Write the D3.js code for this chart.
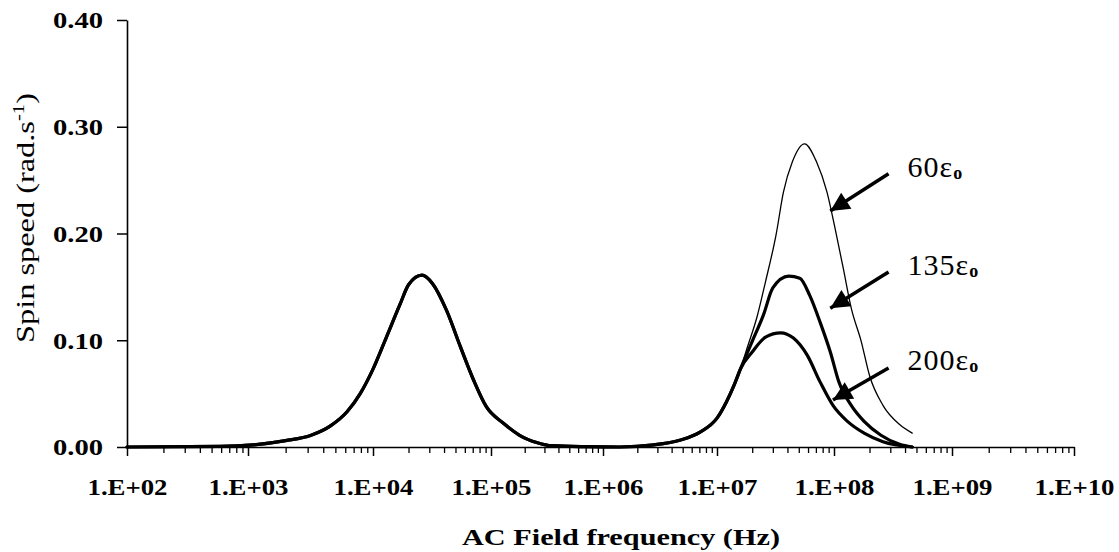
<!DOCTYPE html>
<html>
<head>
<meta charset="utf-8">
<script src="https://cdn.jsdelivr.net/npm/d3@7"></script>
<style>
  html, body { margin: 0; padding: 0; background: #fff; }
  svg { display: block; }
  text { font-family: "Liberation Serif", "Times New Roman", serif; fill: #000; }
</style>
</head>
<body>
<svg id="chart" width="1119" height="552"></svg>
<script>
// ---- data ----
// shared part: low-frequency peak and the common rising flank of the high-frequency peak
const freqShared = [1e2, 5.9e2, 1.1e3, 2.0e3, 3.2e3, 4.6e3, 6.2e3, 7.9e3, 1.0e4, 1.3e4, 1.7e4, 2.0e4,
  2.6e4, 3.2e4, 4.2e4, 5.5e4, 7.1e4, 9.1e4, 1.3e5, 1.8e5, 2.6e5, 3.5e5, 7.2e5, 1.4e6, 2.8e6, 4.8e6,
  7.1e6, 1.0e7, 1.2e7, 1.4e7, 1.6e7];
const spinShared = [0, 0.0005, 0.002, 0.006, 0.011, 0.020, 0.033, 0.050, 0.073, 0.103, 0.134, 0.152,
  0.161, 0.153, 0.128, 0.094, 0.063, 0.038, 0.022, 0.011, 0.004, 0.0012, 0.0003, 0, 0.002, 0.0066,
  0.014, 0.027, 0.042, 0.058, 0.074];

const freq60 = [1.8e7, 2.2e7, 2.6e7, 3.2e7, 3.7e7, 4.4e7, 5.6e7, 7.1e7, 8.7e7, 1.02e8, 1.2e8, 1.4e8,
  1.7e8, 2.0e8, 2.6e8, 3.6e8, 4.6e8];
const spin60 = [0.092, 0.122, 0.155, 0.199, 0.239, 0.267, 0.284, 0.267, 0.239, 0.205, 0.167, 0.130,
  0.099, 0.067, 0.039, 0.021, 0.013];

const freq135 = [2.0e7, 2.5e7, 3.0e7, 4.1e7, 5.1e7, 6.2e7, 7.6e7, 9.3e7, 1.1e8, 1.4e8, 1.8e8, 2.5e8, 3.6e8, 4.6e8];
const spin135 = [0.099, 0.124, 0.149, 0.160, 0.158, 0.142, 0.117, 0.089, 0.061, 0.039, 0.024, 0.011, 0.0025, 0];

const freq200 = [2.0e7, 2.6e7, 3.5e7, 4.5e7, 5.9e7, 7.6e7, 9.8e7, 1.3e8, 1.8e8, 2.6e8, 4.6e8];
const spin200 = [0.089, 0.103, 0.107, 0.102, 0.086, 0.061, 0.039, 0.024, 0.013, 0.005, 0];

const seriesNames = ["60", "135", "200"];
const xTickValues = [1e2, 1e3, 1e4, 1e5, 1e6, 1e7, 1e8, 1e9, 1e10];
const xTickLabels = ["1.E+02", "1.E+03", "1.E+04", "1.E+05", "1.E+06", "1.E+07", "1.E+08", "1.E+09", "1.E+10"];
const yTickValues = [0, 0.1, 0.2, 0.3, 0.4];
const yTickLabels = ["0.00", "0.10", "0.20", "0.30", "0.40"];

// annotation anchors in data space (label, arrow tail, arrow tip)
const annoLabelFreq = 4.2e8;
const annoLabelSpin = [0.253, 0.161, 0.072];
const annoTailFreq = 2.9e8;
const annoTailSpin = [0.256, 0.164, 0.074];
const annoTipFreq = [9.3e7, 9.3e7, 9.8e7];
const annoTipSpin = [0.221, 0.130, 0.044];

// ---- scales ----
const svg = d3.select("#chart");
const x = d3.scaleLog()
  .domain(xTickValues)
  .range([127, 248, 373, 491, 603, 717, 834, 952, 1074]);
const y = d3.scaleLinear().domain([0, 0.4]).range([447, 20]);

// ---- axes ----
const minorTicks = [];
for (let e = 2; e < 10; e++) for (let m = 2; m <= 9; m++) minorTicks.push(m * Math.pow(10, e));

const gMinor = svg.append("g").attr("transform", `translate(0,${y(0)})`)
  .call(d3.axisBottom(x).tickValues(minorTicks).tickSize(6).tickFormat(""));
gMinor.select(".domain").remove();
gMinor.selectAll(".tick line").attr("stroke", "#000").attr("stroke-width", 1.3);

const gx = svg.append("g").attr("transform", `translate(0,${y(0)})`)
  .call(d3.axisBottom(x).tickValues(xTickValues).tickSize(9).tickSizeOuter(0)
    .tickFormat((d, i) => xTickLabels[i]));
gx.select(".domain").attr("stroke", "#000").attr("stroke-width", 1.6);
gx.selectAll(".tick line").attr("stroke", "#000").attr("stroke-width", 1.5);
gx.selectAll(".tick text")
  .attr("y", 48).attr("dy", null)
  .attr("font-size", 24).attr("font-weight", "bold")
  .attr("textLength", 80).attr("lengthAdjust", "spacingAndGlyphs")
  .style("font-family", '"Liberation Serif", serif');

const gy = svg.append("g").attr("transform", `translate(${x(1e2)},0)`)
  .call(d3.axisLeft(y).tickValues(yTickValues).tickSize(10).tickSizeOuter(0)
    .tickFormat((d, i) => yTickLabels[i]));
gy.select(".domain").attr("stroke", "#000").attr("stroke-width", 1.6);
gy.selectAll(".tick line").attr("stroke", "#000").attr("stroke-width", 1.5);
gy.selectAll(".tick text")
  .attr("x", -24).attr("dy", "0.33em")
  .attr("font-size", 24).attr("font-weight", "bold")
  .attr("textLength", 50).attr("lengthAdjust", "spacingAndGlyphs")
  .style("font-family", '"Liberation Serif", serif');

// axis titles
const yTitle = svg.append("text")
  .attr("transform", "translate(34,218) rotate(-90)")
  .attr("text-anchor", "middle")
  .attr("font-size", 25)
  .attr("textLength", 250).attr("lengthAdjust", "spacingAndGlyphs");
yTitle.append("tspan").text("Spin speed (rad.s");
yTitle.append("tspan").attr("font-size", 16).attr("dy", -10).text("-1");
yTitle.append("tspan").attr("dy", 10).text(")");

svg.append("text")
  .attr("x", 621).attr("y", 545)
  .attr("text-anchor", "middle")
  .attr("font-size", 24).attr("font-weight", "bold")
  .attr("textLength", 318).attr("lengthAdjust", "spacingAndGlyphs")
  .text("AC Field frequency (Hz)");

// ---- curves ----
const line = d3.line().x(d => x(d[0])).y(d => y(d[1])).curve(d3.curveMonotoneX);
const shared = freqShared.map((f, i) => [f, spinShared[i]]);
const series = [
  { name: "60", freq: freq60, spin: spin60, width: 1.3 },
  { name: "135", freq: freq135, spin: spin135, width: 3.2 },
  { name: "200", freq: freq200, spin: spin200, width: 3.2 }
];
series.forEach(s => {
  const pts = shared.concat(s.freq.map((f, i) => [f, s.spin[i]]));
  svg.append("path")
    .datum(pts)
    .attr("fill", "none")
    .attr("stroke", "#000")
    .attr("stroke-width", s.width)
    .attr("stroke-linejoin", "round")
    .attr("stroke-linecap", "round")
    .attr("d", line);
});

// ---- annotations ----
svg.append("defs").append("marker")
  .attr("id", "arrowhead")
  .attr("viewBox", "0 0 10 10")
  .attr("refX", 10).attr("refY", 5)
  .attr("markerUnits", "userSpaceOnUse")
  .attr("markerWidth", 24).attr("markerHeight", 19)
  .attr("orient", "auto")
  .append("path").attr("d", "M0,0 L10,5 L0,10 Z").attr("fill", "#000");

seriesNames.forEach((n, i) => {
  svg.append("line")
    .attr("x1", x(annoTailFreq)).attr("y1", y(annoTailSpin[i]))
    .attr("x2", x(annoTipFreq[i])).attr("y2", y(annoTipSpin[i]))
    .attr("stroke", "#000").attr("stroke-width", 3.5)
    .attr("marker-end", "url(#arrowhead)");
  const t = svg.append("text")
    .attr("x", x(annoLabelFreq)).attr("y", y(annoLabelSpin[i]))
    .attr("font-size", 30).attr("letter-spacing", 1);
  t.append("tspan").text(n + "\u03B5");
  t.append("tspan").attr("font-size", 18).attr("font-weight", "bold").attr("dy", 2).text("o");
});
</script>
</body>
</html>
